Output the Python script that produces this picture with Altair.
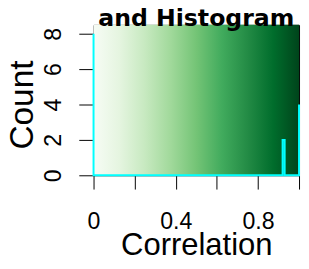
import altair as alt
import pandas as pd

# Colour key palette (Greens) and histogram outline of correlation counts
greens = ["#F7FCF5", "#E5F5E0", "#C7E9C0", "#A1D99B", "#74C476",
          "#41AB5D", "#238B45", "#006D2C", "#00441B"]
hist_x = [0.0, 0.0, 0.92, 0.92, 0.93, 0.93, 1.0, 1.0]
hist_count = [8, 0, 0, 2, 2, 0, 0, 4]
x_ticks = [0, 0.2, 0.4, 0.6, 0.8, 1.0]
x_labels = ["0", "", "0.4", "", "0.8", ""]
y_ticks = [0, 2, 4, 6, 8]
key_range = [0.0, 1.0]
count_top = 8.5
title_text = "and Histogram"

FONT = "Liberation Sans"

hist = pd.DataFrame({"x": hist_x, "count": hist_count, "order": list(range(len(hist_x)))})
bg = pd.DataFrame({"x0": [key_range[0]], "x1": [key_range[1]], "y0": [0], "y1": [count_top]})

expr = "''"
for v, l in reversed(list(zip(x_ticks, x_labels))):
    expr = f"abs(datum.value - {v}) < 1e-6 ? '{l}' : ({expr})"

xscale = alt.Scale(domain=key_range, nice=False, zero=False)
yscale = alt.Scale(domain=[0, count_top], nice=False)

xaxis = alt.Axis(values=x_ticks, labelExpr=expr, tickSize=14, tickColor="black",
                 domain=False, grid=False, labelFont=FONT, labelFontSize=23.5,
                 labelColor="black", labelPadding=21, labelBaseline="top",
                 labelAlign="center", labelOverlap=False, title="Correlation",
                 titleFont=FONT, titleFontSize=31.5, titleFontWeight="normal",
                 titleColor="black", titleBaseline="alphabetic", titleY=81)
yaxis = alt.Axis(values=y_ticks, tickSize=15, tickColor="black", domain=False,
                 grid=False, labelFont=FONT, labelFontSize=23.5, labelColor="black",
                 labelAngle=270, labelAlign="center", labelBaseline="alphabetic",
                 labelPadding=19, labelOverlap=False, labelBound=False,
                 title="Count", titleFont=FONT, titleFontSize=34,
                 titleFontWeight="normal", titleColor="black", titleAngle=270,
                 titleBaseline="alphabetic", titleAlign="center", titleX=-62.5,
                 titleY=81)

grad = alt.Gradient(
    gradient="linear",
    stops=[alt.GradientStop(color=c, offset=i / (len(greens) - 1)) for i, c in enumerate(greens)],
    x1=0, x2=1, y1=0, y2=0,
)

back = alt.Chart(bg).mark_rect(color=grad).encode(
    x=alt.X("x0:Q", scale=xscale, axis=xaxis),
    x2="x1:Q",
    y=alt.Y("y0:Q", scale=yscale, axis=yaxis),
    y2="y1:Q",
)

line = alt.Chart(hist).mark_line(color="#00FFFF", strokeWidth=2).encode(
    x=alt.X("x:Q", scale=xscale, axis=xaxis),
    y=alt.Y("count:Q", scale=yscale, axis=yaxis),
    order="order:Q",
)

title = alt.Chart(pd.DataFrame({"t": [title_text]})).mark_text(
    font="DejaVu Sans", fontSize=24, fontWeight="bold", color="black",
    align="center", baseline="alphabetic",
).encode(text="t:N", x=alt.value(104.5), y=alt.value(1.5))

chart = alt.layer(back, line, title).properties(
    width=209, height=153,
    autosize=alt.AutoSizeParams(type="none"),
    padding={"left": 87, "top": 15, "right": 2, "bottom": 85},
    background="white",
).configure_view(stroke="black", strokeWidth=1)

chart.save("out.html", embed_options={"renderer": "svg", "actions": False})
